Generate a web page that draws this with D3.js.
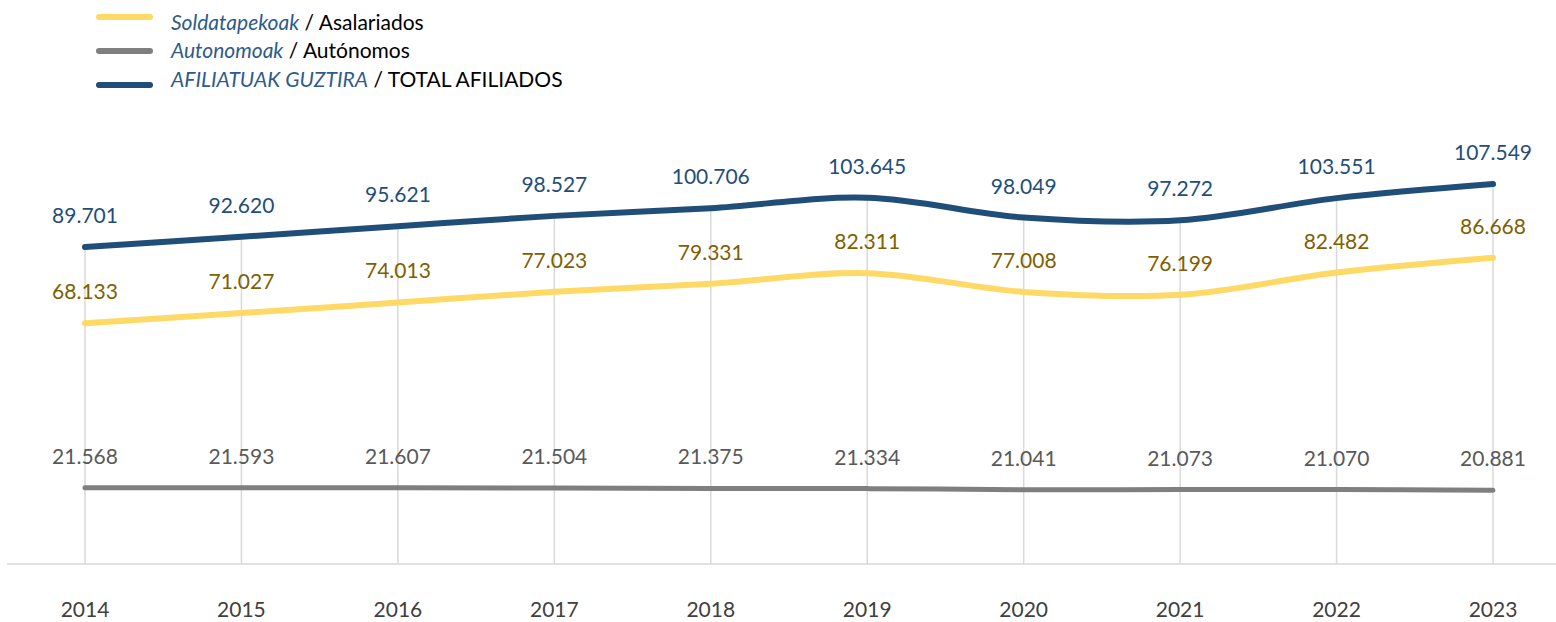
<!DOCTYPE html>
<html>
<head>
<meta charset="utf-8">
<script src="https://cdn.jsdelivr.net/npm/d3@7"></script>
<style>
  body { margin: 0; background: #fff; }
  text { font-family: Lato, "Open Sans", sans-serif; }
</style>
</head>
<body>
<div id="chart"></div>
<script>
const width = 1556;
const height = 622;

// Data
const years = ['2014', '2015', '2016', '2017', '2018', '2019', '2020', '2021', '2022', '2023'];
const asalariados = [68133, 71027, 74013, 77023, 79331, 82311, 77008, 76199, 82482, 86668];
const autonomos = [21568, 21593, 21607, 21504, 21375, 21334, 21041, 21073, 21070, 20881];
const totalAfiliados = [89701, 92620, 95621, 98527, 100706, 103645, 98049, 97272, 103551, 107549];

const series = [
  { eu: 'Soldatapekoak', es: 'Asalariados', values: asalariados, line: '#FFD966', label: '#7F6000', w: 6 },
  { eu: 'Autonomoak', es: 'Autónomos', values: autonomos, line: '#7F7F7F', label: '#595959', w: 5 },
  { eu: 'AFILIATUAK GUZTIRA', es: 'TOTAL AFILIADOS', values: totalAfiliados, line: '#1F4E79', label: '#1F4E79', w: 6 }
];

const svg = d3.select('#chart')
  .append('svg')
  .attr('width', width)
  .attr('height', height);

// Scales
const x = d3.scalePoint()
  .domain(years)
  .range([85, 1493]);

const y = d3.scaleLinear()
  .domain([0, 120000])
  .range([564, 140]);

const fmt = d3.formatLocale({ decimal: ',', thousands: '.', grouping: [3] }).format(',d');

// Drop lines from the highest point down to the axis
svg.selectAll('.drop')
  .data(years)
  .enter()
  .append('line')
  .attr('class', 'drop')
  .attr('x1', d => x(d))
  .attr('x2', d => x(d))
  .attr('y1', (d, i) => y(d3.max(series, s => s.values[i])))
  .attr('y2', y(0))
  .attr('stroke', '#D9D9D9')
  .attr('stroke-width', 1.5);

// Category axis line
svg.append('line')
  .attr('x1', 7)
  .attr('x2', width)
  .attr('y1', y(0))
  .attr('y2', y(0))
  .attr('stroke', '#D9D9D9')
  .attr('stroke-width', 1.5);

// Year labels
svg.selectAll('.year')
  .data(years)
  .enter()
  .append('text')
  .attr('class', 'year')
  .attr('x', d => x(d))
  .attr('y', 617)
  .attr('text-anchor', 'middle')
  .attr('font-size', 21)
  .attr('fill', '#404040')
  .text(d => d);

// Smoothed lines
const line = d3.line()
  .x((d, i) => x(years[i]))
  .y(d => y(d))
  .curve(d3.curveCatmullRom.alpha(0.5));

series.forEach(function (s) {
  svg.append('path')
    .datum(s.values)
    .attr('d', line)
    .attr('fill', 'none')
    .attr('stroke', s.line)
    .attr('stroke-width', s.w)
    .attr('stroke-linecap', 'round');

  svg.selectAll(null)
    .data(s.values)
    .enter()
    .append('text')
    .attr('x', (d, i) => x(years[i]))
    .attr('y', d => y(d) - 24)
    .attr('text-anchor', 'middle')
    .attr('font-size', 21)
    .attr('fill', s.label)
    .text(d => fmt(d));
});

// Legend
const legendLineY = [17, 51, 85];
const legendTextY = [30, 58, 87];
const legend = svg.append('g');
series.forEach(function (s, i) {
  legend.append('line')
    .attr('x1', 99)
    .attr('x2', 150)
    .attr('y1', legendLineY[i])
    .attr('y2', legendLineY[i])
    .attr('stroke', s.line)
    .attr('stroke-width', 6)
    .attr('stroke-linecap', 'round');
  const t = legend.append('text')
    .attr('x', 171)
    .attr('y', legendTextY[i])
    .attr('font-size', 21);
  t.append('tspan')
    .attr('font-style', 'italic')
    .attr('fill', '#2E5B8A')
    .text(s.eu);
  t.append('tspan')
    .attr('fill', '#000')
    .text(' / ' + s.es);
});
</script>
</body>
</html>
